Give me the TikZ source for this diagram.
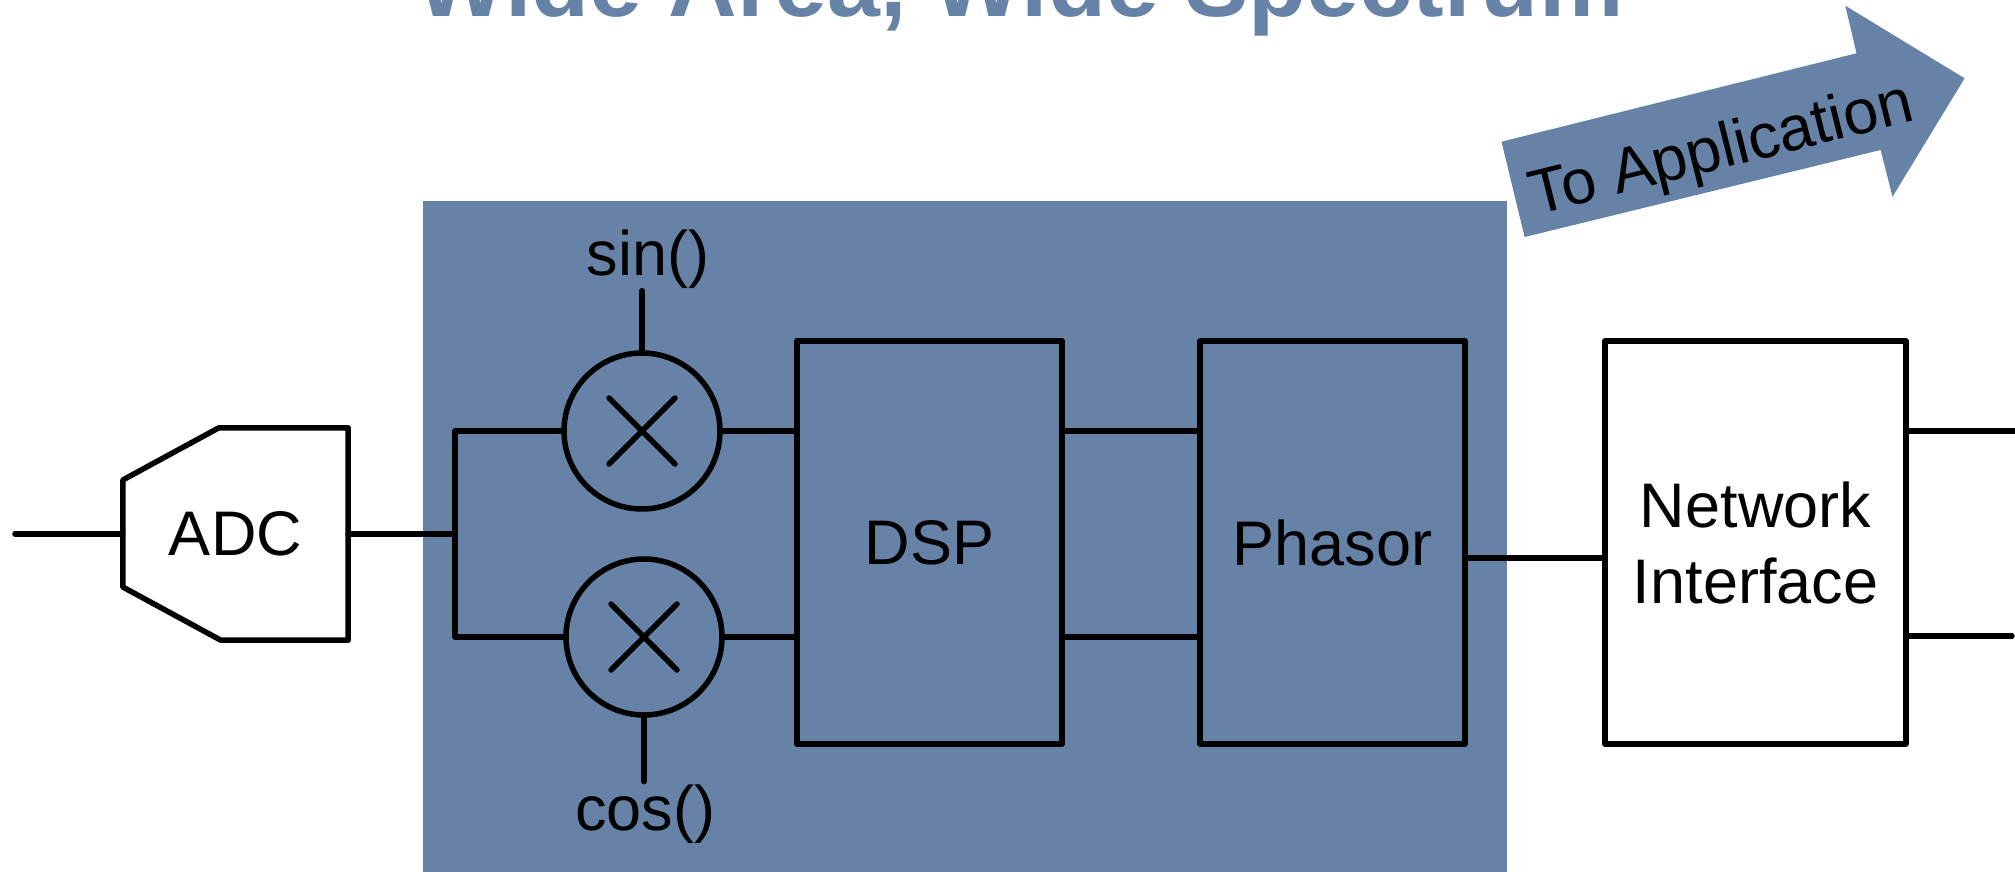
\documentclass[tikz,border=0pt]{standalone}
\usepackage{fontspec}
\setmainfont{Liberation Sans}
\usetikzlibrary{positioning,calc}
\definecolor{slate}{RGB}{102,131,167}
\newcommand{\blockfont}{\fontsize{63}{76}\selectfont}

\begin{document}
\begin{tikzpicture}[x=1pt, y=-1pt,
  wire/.style = {line width=5.5pt, line cap=round, line join=round},
  block/.style = {draw, wire, rectangle, minimum width=265pt,
    minimum height=403pt, inner sep=0pt, outer sep=0pt, align=center, font=\blockfont},
  mixer/.style = {draw, wire, circle, minimum size=156pt, inner sep=0pt},
  lbl/.style = {inner sep=2.5pt, font=\blockfont}]
  \useasboundingbox (0,0) rectangle (2015,872);
  \clip (0,0) rectangle (2015,872);
  % title, cut by the top edge
  \node[anchor=base, text=slate, font=\fontsize{95}{110}\selectfont\bfseries] (title) at (1020,17) {Wide Area, Wide Spectrum};
  % panel
  \fill[slate] (423,201) rectangle (1507,880);
  % arrow
  \fill[slate] (1501.5,141.7) -- (1856.5,53.3) -- (1845.3,5.7) -- (1964.6,78.3)
    -- (1892.5,196.7) -- (1880.6,150) -- (1524.6,237) -- cycle;
  \node[rotate=14, font=\blockfont] (toapp) at (1722,152) {To Application};
  % ADC
  \node[inner sep=0pt, minimum width=225pt, minimum height=212pt, font=\blockfont] (adc) at (235.5,534) {ADC};
  \draw[wire] ($(adc.north west)+(96,0)$) -- (adc.north east) -- (adc.south east)
    -- ($(adc.south west)+(98,0)$) -- ($(adc.west)+(0,53)$) -- ($(adc.west)+(0,-54)$) -- cycle;
  \coordinate (src) at (15,534);
  \draw[wire] (src) -- (adc.west);
  % mixers
  \node[mixer] (mixA) at (642,431) {};
  \node[mixer] (mixB) at (644,637) {};
  \foreach \m in {mixA, mixB}
    \draw[wire] ($(\m)+(-33,-33)$) -- ($(\m)+(33,33)$) ($(\m)+(-33,33)$) -- ($(\m)+(33,-33)$);
  \node[lbl, anchor=base] (sin) at (648,275) {sin()};
  \node[lbl, anchor=base] (cos) at (645,830) {cos()};
  \draw[wire] (mixA.north) -- (mixA.north |- sin.south);
  \draw[wire] (mixB.south) -- (mixB.south |- cos.north);
  % blocks
  \node[block] (dsp) at (929.5,542.5) {DSP};
  \node[block, right=138pt of dsp] (phasor) {Phasor};
  \node[block, right=140pt of phasor, minimum width=301pt] (net) {Network\\Interface};
  % connectors
  \coordinate (busA) at (455,431);
  \coordinate (busB) at (455,637);
  \draw[wire] (adc.east) -- (adc.east -| busA);
  \draw[wire] (mixA.west) -- (busA) -- (busB) -- (mixB.west);
  \draw[wire] (mixA.east) -- (mixA.east -| dsp.west);
  \draw[wire] (mixB.east) -- (mixB.east -| dsp.west);
  \draw[wire] (dsp.east |- mixA) -- (phasor.west |- mixA);
  \draw[wire] (dsp.east |- mixB) -- (phasor.west |- mixB);
  \draw[wire] ([yshift=-15.5pt]phasor.east) -- ([yshift=-15.5pt]net.west);
  \coordinate (outA) at (2030,431);
  \coordinate (outB) at (2012,636);
  \draw[wire] (net.east |- outA) -- (outA);
  \draw[wire] (net.east |- outB) -- (outB);
\end{tikzpicture}
\end{document}
